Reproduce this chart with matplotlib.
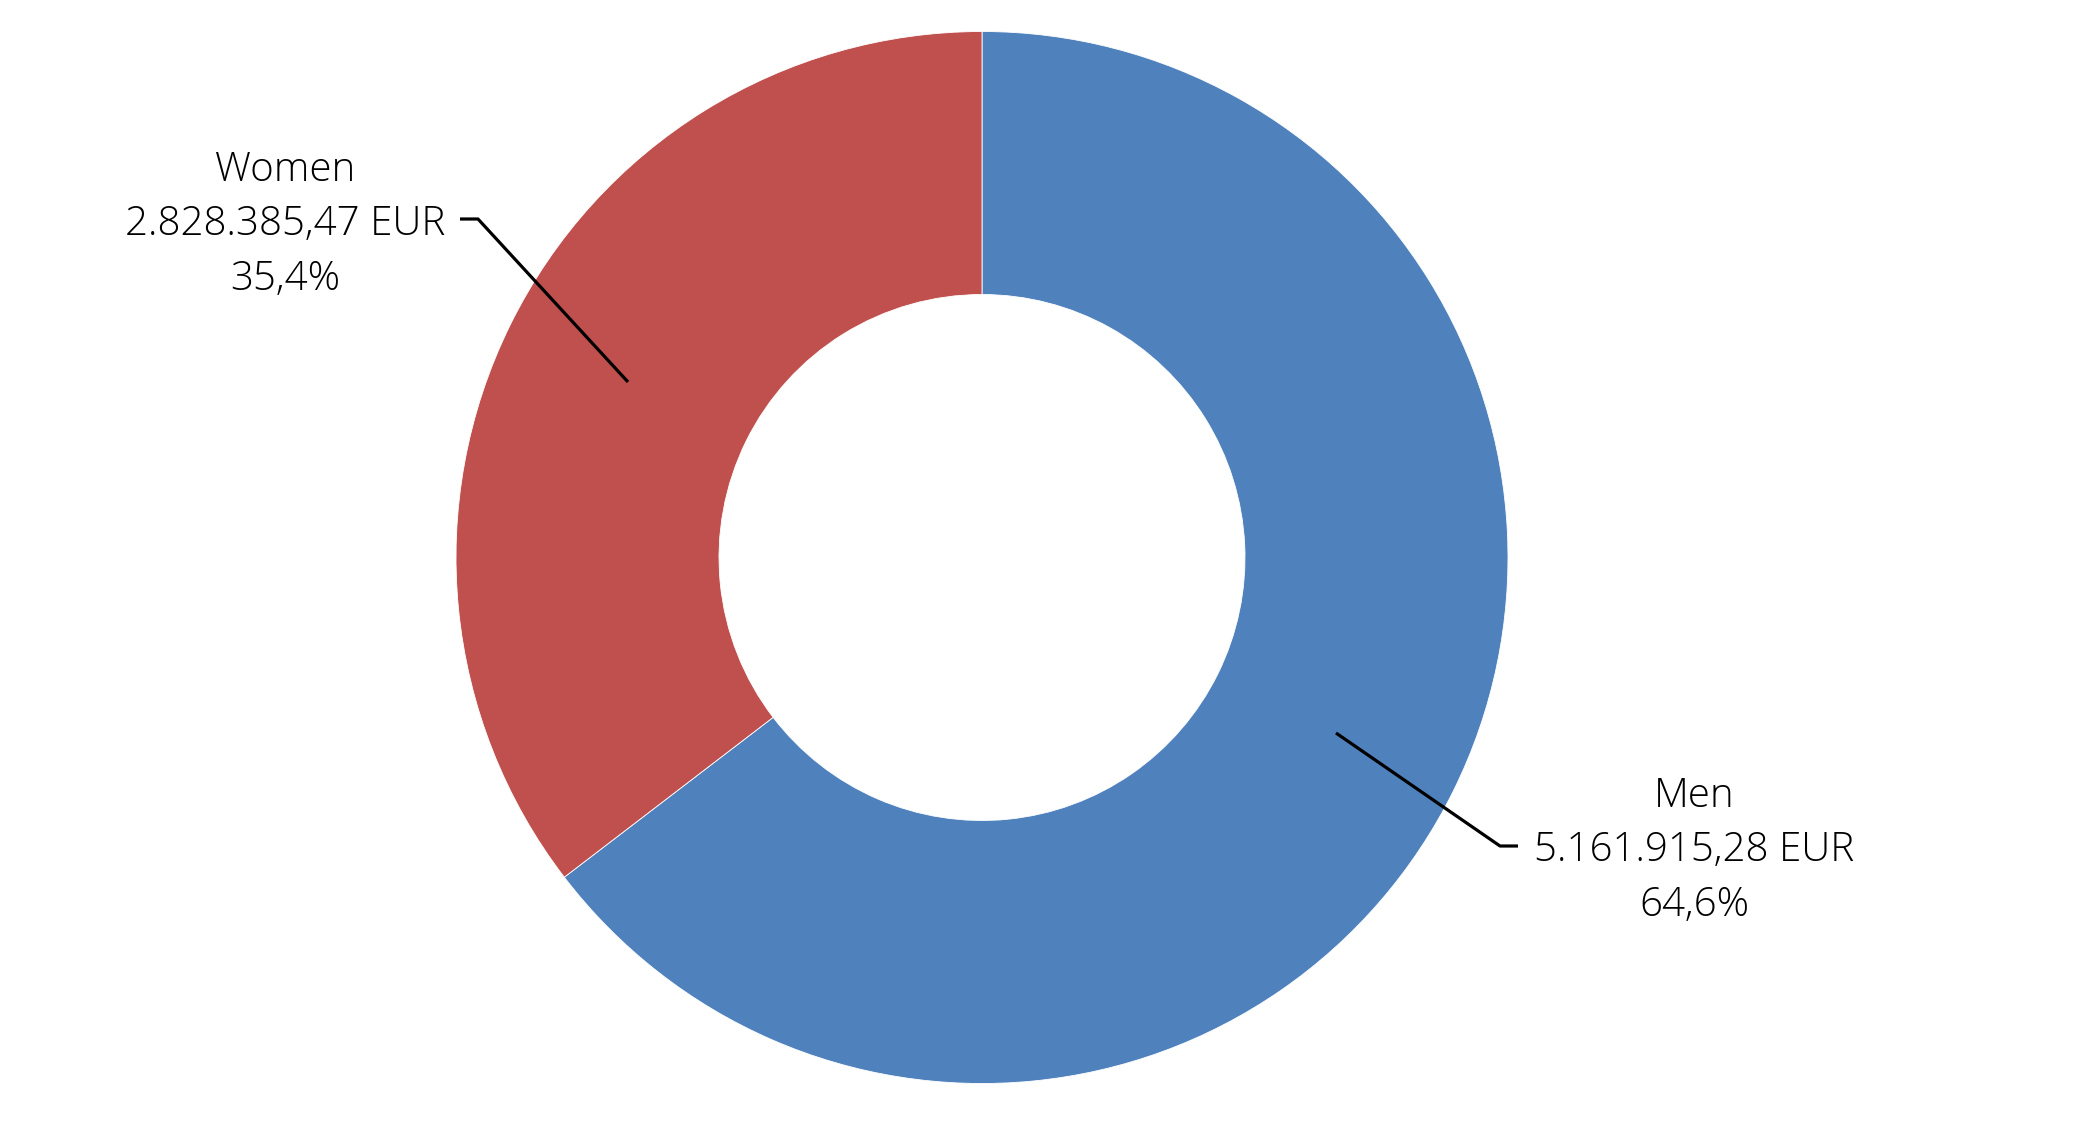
import matplotlib.pyplot as plt
import numpy as np

# data
labels = ["Men", "Women"]
values = [5161915.28, 2828385.47]
colors = ["#4F81BD", "#C0504D"]

fontsize = 29
plt.rcParams['font.family'] = ['Open Sans', 'DejaVu Sans']


def de_format(v):
  # 1234567.89 -> 1.234.567,89
  s = "{:,.2f}".format(v)
  return s.replace(",", "X").replace(".", ",").replace("X", ".")


def pct_format(p):
  return "{:.1f}%".format(p).replace(".", ",")


fig = plt.figure(figsize=(20.77, 11.28), dpi=100)
ax = fig.add_axes([0, 0, 1, 1])

# y axis runs downwards so positions are in image pixels
wedges, _ = ax.pie(values, colors=colors, center=(982, 557.5), radius=526,
                   startangle=-90, counterclock=True,
                   wedgeprops=dict(width=263, edgecolor="white", linewidth=0.6))
ax.set_xlim(0, 2077)
ax.set_ylim(1128, 0)
ax.set_aspect("equal")
ax.axis("off")

total = float(np.sum(values))
pcts = [100.0 * v / total for v in values]

# label positions (centre x, first baseline) and leader lines
text_pos = {"Men": (1694, 807), "Women": (285, 181)}
leaders = {"Men": ([1336, 1500, 1518], [733, 846, 846]),
           "Women": ([460, 478, 628], [219, 219, 382])}
line_gap = 54.3

for name, val, p in zip(labels, values, pcts):
  x0, y0 = text_pos[name]
  lines = [name, de_format(val) + " EUR", pct_format(p)]
  for i, t in enumerate(lines):
    ax.text(x0, y0 + i * line_gap, t, ha="center", va="baseline",
            fontsize=fontsize, fontweight="light", color="black")
  lx, ly = leaders[name]
  ax.plot(lx, ly, color="black", linewidth=2.3, solid_capstyle="butt")

fig.savefig("out.png", dpi=100, facecolor="white")
